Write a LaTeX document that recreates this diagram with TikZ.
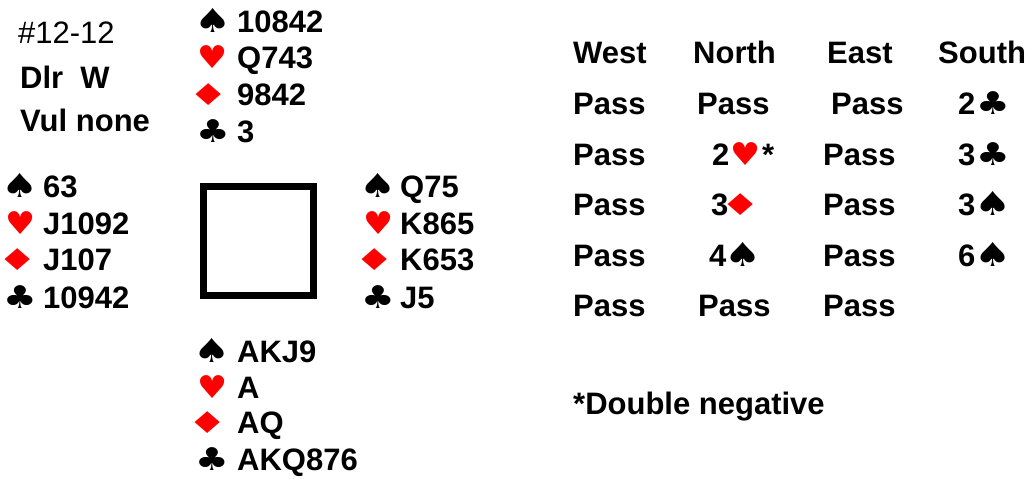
\documentclass[tikz,border=0pt]{standalone}
\usepackage{fontspec}
\usepackage{graphicx}
\setmainfont{Liberation Sans}
\newfontfamily\suitfont{DejaVu Sans}
\definecolor{suitred}{RGB}{255,0,0}
\newcommand\suitS{\scalebox{1.38}[1.1]{\suitfont\fontsize{30}{30}\selectfont ♠}}
\newcommand\suitH{\scalebox{1.12}[1.05]{\color{suitred}\suitfont\fontsize{30}{30}\selectfont ♥}}
\newcommand\suitD{\scalebox{1.5}[1.0]{\color{suitred}\suitfont\fontsize{30}{30}\selectfont ♦}}
\newcommand\suitC{\scalebox{1.25}[1.05]{\suitfont\fontsize{30}{30}\selectfont ♣}}
\tikzset{
  txt/.style={anchor=base west, inner sep=0pt, font=\fontsize{31}{37}\selectfont\bfseries},
  reg/.style={anchor=base west, inner sep=0pt, font=\fontsize{31}{37}\selectfont},
  sym/.style={anchor=base, inner sep=0pt},
  tablebox/.style={draw, line width=7pt, minimum width=110pt, minimum height=109pt, inner sep=0pt}
}
% #1 suit centre x, #2 text x, #3 baseline, #4 suit, #5 text, #6 name
\newcommand\handrow[6]{%
  \node[sym] (#6s) at (#1,#3) {#4};
  \node[txt] (#6t) at (#2,#3) {#5};}
\begin{document}
\begin{tikzpicture}[x=1pt,y=-1pt]
\useasboundingbox (0,0) rectangle (1029,479);
% header
\node[reg] (board) at (18,43) {\#12-12};
\node[txt] (dealer) at (20,88) {Dlr\ \ W};
\node[txt] (vul) at (20,131) {Vul none};
% North
\handrow{213}{237}{32}{\suitS}{10842}{ns}
\handrow{213}{237}{68}{\suitH}{Q743}{nh}
\handrow{208.5}{237}{105}{\suitD}{9842}{nd}
\handrow{213}{237}{142}{\suitC}{3}{nc}
% West
\handrow{20.5}{43}{197}{\suitS}{63}{ws}
\handrow{20.5}{43}{234}{\suitH}{J1092}{wh}
\handrow{17.5}{43}{270}{\suitD}{J107}{wd}
\handrow{20.5}{43}{308}{\suitC}{10942}{wc}
% East
\handrow{378.5}{400}{197}{\suitS}{Q75}{es}
\handrow{378.5}{400}{234}{\suitH}{K865}{eh}
\handrow{375}{400}{270}{\suitD}{K653}{ed}
\handrow{378.5}{400}{308}{\suitC}{J5}{ec}
% South
\handrow{212}{237}{362}{\suitS}{AKJ9}{ss}
\handrow{213}{237}{398}{\suitH}{A}{sh}
\handrow{208}{237}{433}{\suitD}{AQ}{sd}
\handrow{212}{237}{470}{\suitC}{AKQ876}{sc}
% table
\node[tablebox] (table) at (258.5,241) {};
% auction
\node[txt] (hW) at (573,63) {West};
\node[txt] (hN) at (693,63) {North};
\node[txt] (hE) at (827,63) {East};
\node[txt] (hS) at (938,63) {South};
\node[txt] (a1w) at (573,114) {Pass};
\node[txt] (a1n) at (697,114) {Pass};
\node[txt] (a1e) at (831,114) {Pass};
\node[txt] (a1s) at (958,114) {2};
\node[sym] (a1ss) at (993,114) {\suitC};
\node[txt] (a2w) at (573,165) {Pass};
\node[txt] (a2n) at (712,165) {2};
\node[sym] (a2ns) at (746,165) {\suitH};
\node[txt] (a2star) at (762,165) {*};
\node[txt] (a2e) at (823,165) {Pass};
\node[txt] (a2s) at (958,165) {3};
\node[sym] (a2ss) at (993,165) {\suitC};
\node[txt] (a3w) at (573,215) {Pass};
\node[txt] (a3n) at (711,215) {3};
\node[sym] (a3ns) at (741,215) {\suitD};
\node[txt] (a3e) at (823,215) {Pass};
\node[txt] (a3s) at (958,215) {3};
\node[sym] (a3ss) at (993,215) {\suitS};
\node[txt] (a4w) at (573,266) {Pass};
\node[txt] (a4n) at (709,266) {4};
\node[sym] (a4ns) at (743,266) {\suitS};
\node[txt] (a4e) at (823,266) {Pass};
\node[txt] (a4s) at (958,266) {6};
\node[sym] (a4ss) at (993,266) {\suitS};
\node[txt] (a5w) at (573,316) {Pass};
\node[txt] (a5n) at (698,316) {Pass};
\node[txt] (a5e) at (823,316) {Pass};
\node[txt] (note) at (573,414) {*Double negative};
\end{tikzpicture}
\end{document}
